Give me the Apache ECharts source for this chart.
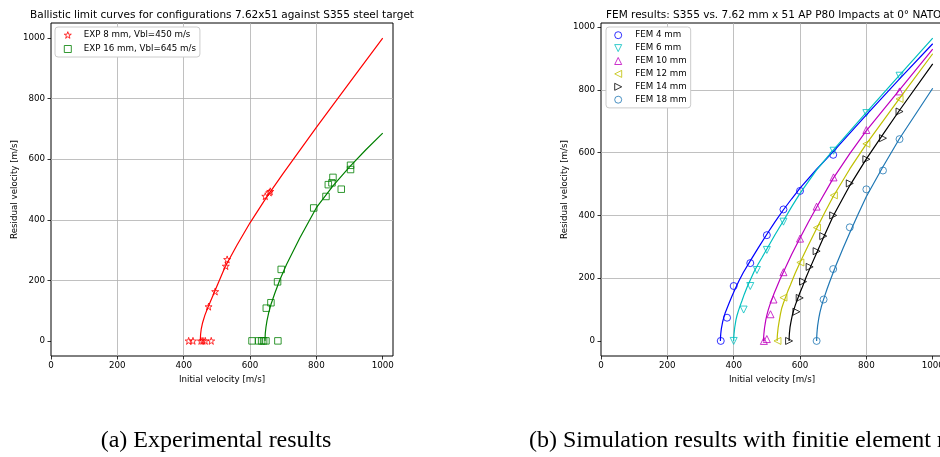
<!DOCTYPE html>
<html>
<head>
<meta charset="utf-8">
<script src="https://cdn.jsdelivr.net/npm/echarts@6/dist/echarts.min.js"></script>
<style>
html, body { margin: 0; padding: 0; background: #fff; }
#main { width: 940px; height: 457px; }
</style>
</head>
<body>
<div id="main"></div>
<script>
var tickValues = [0, 200, 400, 600, 800, 1000];

// (a) experimental results: [initial velocity, residual velocity]
var exp8Name = 'EXP 8 mm, Vbl=450 m/s';
var exp16Name = 'EXP 16 mm, Vbl=645 m/s';
var exp8Points = [[415, 0], [428, 0], [452, 0], [458, 0], [465, 0], [483, 0],
    [475, 113], [495, 163], [527, 247], [531, 269], [646, 478], [658, 490], [661, 494]];
var exp16Points = [[606, 0], [626, 0], [635, 0], [641, 0], [648, 0], [684, 0],
    [649, 108], [663, 126], [683, 195], [694, 236], [792, 439], [829, 477], [836, 516],
    [847, 522], [850, 540], [875, 501], [903, 566], [903, 580]];
var exp8Curve = [[450, 0], [451, 22], [453, 40], [457, 60], [464, 85], [473, 110], [494, 165],
    [525, 245], [560, 315], [600, 390], [650, 475], [700, 553], [800, 705], [900, 853], [1000, 1000]];
var exp16Curve = [[645, 0], [646, 25], [648, 45], [651, 66], [656, 92], [663, 120], [675, 158],
    [690, 202], [710, 252], [750, 340], [800, 440], [850, 512], [900, 575], [950, 632], [1000, 686]];

// (b) FEM results
var femNames = ['FEM 4 mm', 'FEM 6 mm', 'FEM 10 mm', 'FEM 12 mm', 'FEM 14 mm', 'FEM 18 mm'];
var fem4Points = [[361, 0], [380, 74], [400, 175], [450, 248], [500, 337], [550, 419], [600, 478], [700, 593]];
var fem6Points = [[400, 0], [430, 100], [450, 175], [470, 226], [500, 290], [550, 380], [701, 606], [800, 726], [900, 845]];
var fem10Points = [[491, 0], [500, 6], [511, 85], [520, 132], [550, 219], [600, 326], [650, 428], [701, 521], [800, 672], [900, 795]];
var fem12Points = [[532, 0], [550, 138], [601, 250], [651, 361], [702, 464], [800, 628], [900, 771]];
var fem14Points = [[567, 0], [589, 93], [599, 137], [609, 189], [629, 236], [650, 286], [670, 334], [700, 400],
    [750, 502], [800, 579], [850, 646], [900, 731]];
var fem18Points = [[650, 0], [671, 132], [700, 229], [750, 362], [800, 483], [850, 543], [900, 643]];

var fem4Curve = [[360, 0], [360.3, 12], [361, 22], [362, 32], [363, 40], [365, 51], [367, 62], [370, 74],
    [374, 88], [380, 104], [386, 120], [395, 143], [404, 165], [416, 192], [429, 218], [450, 255], [475, 298],
    [500, 340], [525, 380], [550, 418], [575, 453], [600, 487], [650, 547], [700, 603], [800, 720], [900, 835], [1000, 947]];
var fem6Curve = [[400, 0], [400.3, 12], [401, 22], [402, 32], [403, 42], [405, 55], [407, 68], [410, 81],
    [414, 95], [419, 111], [425, 128], [432, 149], [440, 170], [450, 194], [462, 222], [474, 245], [485, 265],
    [500, 293], [525, 339], [550, 383], [575, 428], [600, 470], [650, 545], [700, 608], [800, 728], [900, 847], [1000, 965]];
var fem10Curve = [[490, 0], [490.3, 12], [491, 22], [492, 32], [493, 42], [495, 55], [497, 68], [500, 82],
    [504, 98], [509, 115], [515, 132], [522, 152], [530, 172], [540, 197], [550, 220], [575, 276],
    [600, 328], [625, 378], [650, 426], [700, 518], [750, 597], [800, 670], [900, 800], [1000, 930]];
var fem12Curve = [[531, 0], [531.3, 12], [532, 22], [533, 32], [534, 42], [536, 55], [538, 68], [541, 86],
    [545, 105], [550, 121], [556, 138], [563, 158], [571, 178], [585, 215], [600, 250], [625, 305],
    [650, 358], [675, 410], [700, 460], [750, 548], [800, 628], [900, 773], [1000, 915]];
var fem14Curve = [[567, 0], [567.3, 12], [568, 25], [569, 35], [570, 45], [572, 57], [574, 68], [577, 83],
    [581, 98], [586, 115], [592, 132], [599, 152], [607, 172], [618, 202], [630, 232], [650, 280],
    [670, 328], [700, 398], [750, 495], [800, 580], [850, 658], [900, 735], [1000, 883]];
var fem18Curve = [[650, 0], [650.3, 13], [651, 25], [652, 37], [653, 48], [655, 62], [657, 75], [660, 91],
    [664, 108], [669, 126], [675, 145], [682, 167], [690, 190], [700, 218], [710, 245], [730, 296],
    [750, 345], [775, 404], [800, 460], [850, 555], [900, 645], [1000, 805]];

var femPoints = [fem4Points, fem6Points, fem10Points, fem12Points, fem14Points, fem18Points];
var femCurves = [fem4Curve, fem6Curve, fem10Curve, fem12Curve, fem14Curve, fem18Curve];
var femColors = ['#0000ff', '#00bfbf', '#bf00bf', '#bfbf00', '#000000', '#1f77b4'];

var font = 'DejaVu Sans';
var starPath = 'path://M50,0L61.2,34.5L97.6,34.5L68.2,55.9L79.4,90.5L50,69.1L20.6,90.5L31.8,55.9L2.4,34.5L38.8,34.5Z';
var triDown = 'path://M0,0L10,0L5,10Z';
var triUp = 'path://M5,0L10,10L0,10Z';
var triLeft = 'path://M0,5L10,0L10,10Z';
var triRight = 'path://M0,0L10,5L0,10Z';
var femSymbols = ['circle', triDown, triUp, triLeft, triRight, 'circle'];

function plainNumber(v) {
    return String(v);
}

function xAxisFor(idx) {
    return {
        type: 'value', gridIndex: idx, min: 0, max: 1031,
        name: 'Initial velocity [m/s]', nameLocation: 'middle', nameGap: 17,
        nameTextStyle: {fontFamily: font, fontSize: 8.7, color: '#000'},
        axisLine: {show: false, onZero: false},
        axisTick: {show: true, length: 3.5, customValues: tickValues, lineStyle: {color: '#000', width: 0.8}},
        axisLabel: {fontFamily: font, fontSize: 8.7, color: '#000', margin: 5, customValues: tickValues,
            formatter: plainNumber},
        splitLine: {show: true, showMinLine: false, showMaxLine: false, lineStyle: {color: '#b0b0b0', width: 0.8}}
    };
}

function yAxisFor(idx, min, max) {
    return {
        type: 'value', gridIndex: idx, min: min, max: max,
        name: 'Residual velocity [m/s]', nameLocation: 'middle', nameGap: 28,
        nameTextStyle: {fontFamily: font, fontSize: 8.7, color: '#000'},
        axisLine: {show: false, onZero: false},
        axisTick: {show: true, length: 3.5, customValues: tickValues, lineStyle: {color: '#000', width: 0.8}},
        axisLabel: {fontFamily: font, fontSize: 8.7, color: '#000', margin: 6, customValues: tickValues,
            formatter: plainNumber},
        splitLine: {show: true, showMinLine: false, showMaxLine: false, lineStyle: {color: '#b0b0b0', width: 0.8}}
    };
}

function hollow(c, w) {
    return {color: 'rgba(0,0,0,0)', borderColor: c, borderWidth: w || 1};
}

function curve(name, data, c, idx) {
    return {
        name: name, type: 'line', data: data, xAxisIndex: idx, yAxisIndex: idx,
        showSymbol: false, smooth: false,
        lineStyle: {color: c, width: 1.2}, itemStyle: {color: c}, z: 3, silent: true
    };
}

var series = [
    {name: exp8Name, type: 'scatter', data: exp8Points, xAxisIndex: 0, yAxisIndex: 0,
        symbol: starPath, symbolSize: 7, itemStyle: hollow('#ff0000'), z: 2},
    {name: exp16Name, type: 'scatter', data: exp16Points, xAxisIndex: 0, yAxisIndex: 0,
        symbol: 'rect', symbolSize: 6.5, itemStyle: hollow('#008000'), z: 2},
    curve('fit8', exp8Curve, '#ff0000', 0),
    curve('fit16', exp16Curve, '#008000', 0)
];

var femLegendData = [];
for (var i = 0; i < femNames.length; i++) {
    series.push({
        name: femNames[i], type: 'scatter', data: femPoints[i], xAxisIndex: 1, yAxisIndex: 1,
        symbol: femSymbols[i], symbolSize: 7,
        itemStyle: hollow(femColors[i]), z: 2
    });
    series.push(curve('fit' + i, femCurves[i], femColors[i], 1));
    femLegendData.push({name: femNames[i], icon: femSymbols[i], itemStyle: hollow(femColors[i], 1)});
}

var legendBase = {
    orient: 'vertical', align: 'left', itemWidth: 7, itemHeight: 7,
    backgroundColor: '#fff', borderColor: '#cccccc', borderWidth: 1, borderRadius: 3
};

var option = {
    animation: false,
    backgroundColor: '#fff',
    grid: [
        {left: 51, top: 23, width: 342, height: 333, show: true, borderColor: '#000', borderWidth: 1,
            backgroundColor: 'transparent', containLabel: false, outerBoundsMode: 'none'},
        {left: 601, top: 23, width: 342, height: 333, show: true, borderColor: '#000', borderWidth: 1,
            backgroundColor: 'transparent', containLabel: false, outerBoundsMode: 'none'}
    ],
    xAxis: [xAxisFor(0), xAxisFor(1)],
    yAxis: [yAxisFor(0, -50, 1050), yAxisFor(1, -48, 1013)],
    legend: [
        Object.assign({}, legendBase, {
            data: [{name: exp8Name, icon: starPath, itemStyle: hollow('#ff0000', 1)},
                {name: exp16Name, icon: 'rect', itemStyle: hollow('#008000', 1)}],
            left: 55, top: 27, itemGap: 4, padding: [3, 4, 3, 8.8],
            textStyle: {fontFamily: font, fontSize: 8.7, color: '#000', lineHeight: 10, padding: [0, 0, 0, 7.5]}
        }),
        Object.assign({}, legendBase, {
            data: femLegendData, left: 606, top: 27, itemGap: 3.5, padding: [3.5, 4, 3.5, 8.2],
            textStyle: {fontFamily: font, fontSize: 8.7, color: '#000', lineHeight: 9.4, padding: [0, 0, 0, 8.5]}
        })
    ],
    graphic: [
        {type: 'text', x: 222, y: 15, silent: true,
            style: {text: 'Ballistic limit curves for configurations 7.62x51 against S355 steel target',
                font: '10.5px "DejaVu Sans"', fill: '#000', textAlign: 'center', textVerticalAlign: 'middle'}},
        {type: 'text', x: 606, y: 15, silent: true,
            style: {text: 'FEM results: S355 vs. 7.62 mm x 51 AP P80 Impacts at 0\u00b0 NATO',
                font: '10.5px "DejaVu Sans"', fill: '#000', textAlign: 'left', textVerticalAlign: 'middle'}},
        {type: 'text', x: 216, y: 441, silent: true,
            style: {text: '(a) Experimental results', font: '24px "Liberation Serif"', fill: '#000',
                textAlign: 'center', textVerticalAlign: 'middle'}},
        {type: 'text', x: 529, y: 441, silent: true,
            style: {text: '(b) Simulation results with finitie element method', font: '24px "Liberation Serif"',
                fill: '#000', textAlign: 'left', textVerticalAlign: 'middle'}}
    ],
    series: series
};

var myChart = echarts.init(document.getElementById('main'));
myChart.setOption(option);
</script>
</body>
</html>
